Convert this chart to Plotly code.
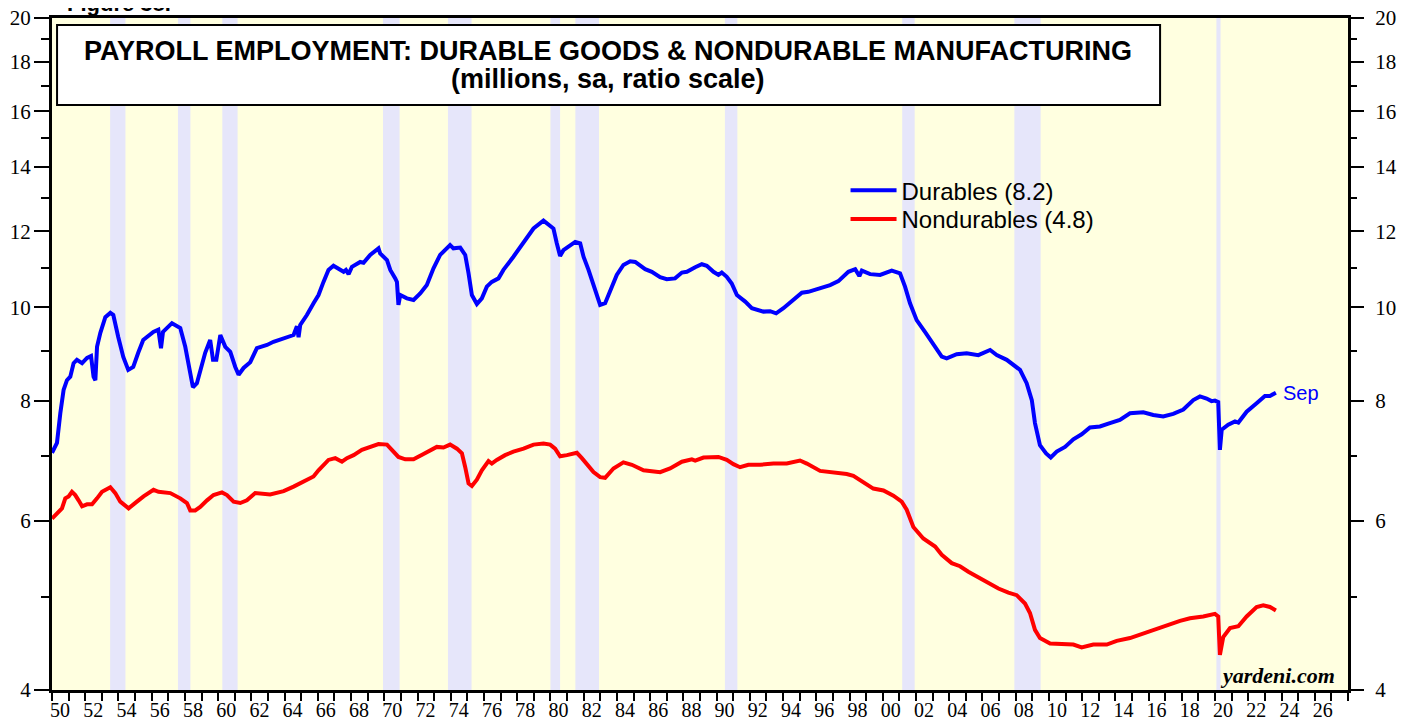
import plotly.graph_objects as go

# Durable goods payroll employment (millions, sa)
dur_years = [
    1950.00, 1950.30, 1950.50, 1950.70, 1950.90, 1951.10, 1951.30, 1951.50, 1951.81, 1952.11,
    1952.35, 1952.50, 1952.61, 1952.71, 1952.91, 1953.21, 1953.51, 1953.69, 1953.99, 1954.29,
    1954.59, 1954.89, 1955.19, 1955.49, 1956.10, 1956.40, 1956.56, 1956.68, 1957.22, 1957.72,
    1958.02, 1958.32, 1958.48, 1958.72, 1958.92, 1959.22, 1959.52, 1959.69, 1959.89, 1960.13,
    1960.43, 1960.73, 1961.03, 1961.23, 1961.53, 1961.93, 1962.33, 1962.94, 1963.33, 1963.94,
    1964.54, 1964.74, 1964.84, 1964.94, 1965.34, 1965.74, 1966.04, 1966.34, 1966.64, 1966.94,
    1967.24, 1967.55, 1967.69, 1967.85, 1968.05, 1968.55, 1968.75, 1969.15, 1969.65, 1969.75,
    1970.16, 1970.36, 1970.66, 1970.76, 1970.85, 1970.96, 1971.36, 1971.76, 1972.16, 1972.56,
    1972.96, 1973.36, 1973.96, 1974.16, 1974.57, 1974.87, 1975.07, 1975.27, 1975.57, 1975.87,
    1976.17, 1976.47, 1976.87, 1977.17, 1977.77, 1978.38, 1978.98, 1979.58, 1979.98, 1980.18,
    1980.38, 1980.58, 1980.78, 1981.19, 1981.49, 1981.79, 1981.99, 1982.29, 1982.69, 1982.99,
    1983.29, 1983.59, 1983.99, 1984.39, 1984.80, 1985.10, 1985.70, 1986.10, 1986.60, 1987.00,
    1987.50, 1987.91, 1988.21, 1988.71, 1989.11, 1989.41, 1989.81, 1990.11, 1990.31, 1990.61,
    1990.91, 1991.22, 1991.72, 1992.12, 1992.82, 1993.22, 1993.58, 1994.02, 1994.52, 1995.13,
    1995.52, 1996.23, 1996.83, 1997.33, 1997.93, 1998.34, 1998.59, 1998.74, 1999.24, 1999.84,
    2000.54, 2001.04, 2001.34, 2001.64, 2002.04, 2002.54, 2003.04, 2003.55, 2003.85, 2004.45,
    2005.05, 2005.75, 2006.46, 2006.86, 2007.46, 2007.86, 2008.26, 2008.66, 2008.97, 2009.16,
    2009.46, 2009.83, 2010.11, 2010.47, 2010.97, 2011.47, 2011.97, 2012.47, 2013.07, 2013.67,
    2014.27, 2014.88, 2015.68, 2016.28, 2016.88, 2017.48, 2017.89, 2018.09, 2018.69, 2019.09,
    2019.49, 2019.79, 2019.99, 2020.19, 2020.29, 2020.40, 2020.79, 2021.20, 2021.40, 2021.90,
    2022.50, 2023.00, 2023.30, 2023.66,
]
durables = [
    7.06, 7.23, 7.76, 8.21, 8.40, 8.47, 8.75, 8.82, 8.75, 8.86,
    8.90, 8.47, 8.40, 9.10, 9.41, 9.77, 9.87, 9.82, 9.31, 8.88,
    8.61, 8.67, 8.97, 9.25, 9.43, 9.48, 9.07, 9.43, 9.63, 9.52,
    9.10, 8.47, 8.26, 8.34, 8.61, 8.97, 9.25, 8.82, 8.82, 9.36,
    9.10, 8.99, 8.67, 8.51, 8.65, 8.77, 9.07, 9.14, 9.21, 9.29,
    9.36, 9.56, 9.31, 9.59, 9.82, 10.10, 10.30, 10.63, 10.94, 11.05,
    10.98, 10.89, 10.94, 10.83, 11.02, 11.15, 11.13, 11.34, 11.52, 11.38,
    11.20, 10.94, 10.72, 10.63, 10.06, 10.30, 10.22, 10.18, 10.34, 10.55,
    10.98, 11.34, 11.61, 11.52, 11.54, 11.34, 10.85, 10.30, 10.08, 10.22,
    10.51, 10.63, 10.72, 10.94, 11.29, 11.66, 12.08, 12.31, 12.15, 12.08,
    11.66, 11.31, 11.47, 11.61, 11.70, 11.66, 11.29, 10.94, 10.38, 10.06,
    10.10, 10.38, 10.81, 11.07, 11.17, 11.15, 10.96, 10.89, 10.75, 10.70,
    10.72, 10.87, 10.89, 11.01, 11.09, 11.05, 10.89, 10.81, 10.87, 10.76,
    10.59, 10.30, 10.14, 9.98, 9.90, 9.91, 9.86, 9.98, 10.14, 10.36,
    10.38, 10.47, 10.55, 10.65, 10.89, 10.96, 10.78, 10.92, 10.83, 10.81,
    10.92, 10.85, 10.51, 10.10, 9.70, 9.43, 9.14, 8.89, 8.85, 8.94,
    8.96, 8.92, 9.03, 8.92, 8.82, 8.71, 8.61, 8.34, 8.01, 7.58,
    7.19, 7.05, 6.98, 7.08, 7.16, 7.29, 7.38, 7.50, 7.52, 7.58,
    7.64, 7.76, 7.78, 7.73, 7.70, 7.75, 7.81, 7.83, 8.01, 8.08,
    8.04, 7.99, 8.00, 7.97, 7.11, 7.46, 7.55, 7.61, 7.59, 7.79,
    7.95, 8.09, 8.09, 8.15,
]

# Nondurable manufacturing payroll employment (millions, sa)
nondur_years = [
    1950.00, 1950.30, 1950.60, 1950.80, 1951.00, 1951.20, 1951.40, 1951.60, 1951.81, 1952.11,
    1952.41, 1952.71, 1953.01, 1953.51, 1953.81, 1954.11, 1954.61, 1955.11, 1955.51, 1956.11,
    1956.41, 1957.12, 1957.72, 1958.12, 1958.32, 1958.62, 1958.92, 1959.33, 1959.72, 1960.23,
    1960.53, 1960.93, 1961.33, 1961.73, 1962.23, 1963.13, 1963.94, 1964.54, 1965.14, 1965.74,
    1966.04, 1966.44, 1966.64, 1967.05, 1967.45, 1967.75, 1968.15, 1968.65, 1969.05, 1969.65,
    1970.16, 1970.46, 1970.85, 1971.26, 1971.76, 1972.36, 1972.66, 1973.16, 1973.56, 1973.96,
    1974.37, 1974.67, 1974.87, 1975.07, 1975.27, 1975.57, 1975.87, 1976.27, 1976.47, 1976.77,
    1977.27, 1977.77, 1978.38, 1978.98, 1979.58, 1979.98, 1980.28, 1980.58, 1980.99, 1981.59,
    1981.89, 1982.19, 1982.59, 1982.99, 1983.29, 1983.79, 1984.39, 1984.90, 1985.60, 1986.60,
    1987.20, 1987.91, 1988.51, 1988.71, 1989.21, 1990.11, 1990.61, 1991.01, 1991.41, 1991.91,
    1992.62, 1993.42, 1994.22, 1995.02, 1995.43, 1996.23, 1997.03, 1997.83, 1998.23, 1998.83,
    1999.43, 2000.04, 2000.64, 2001.14, 2001.44, 2001.84, 2002.44, 2003.15, 2003.55, 2004.15,
    2004.65, 2005.15, 2005.85, 2006.45, 2006.96, 2007.56, 2008.06, 2008.56, 2008.86, 2009.16,
    2009.46, 2010.07, 2010.77, 2011.47, 2011.97, 2012.67, 2013.48, 2014.08, 2014.88, 2015.68,
    2016.49, 2017.29, 2017.89, 2018.49, 2019.29, 2019.99, 2020.19, 2020.29, 2020.49, 2020.90,
    2021.40, 2021.90, 2022.50, 2022.90, 2023.30, 2023.66,
]
nondurables = [
    6.03, 6.11, 6.18, 6.33, 6.36, 6.43, 6.38, 6.30, 6.21, 6.24,
    6.24, 6.33, 6.43, 6.50, 6.41, 6.28, 6.18, 6.28, 6.36, 6.46,
    6.43, 6.41, 6.33, 6.26, 6.15, 6.15, 6.20, 6.30, 6.38, 6.42,
    6.38, 6.28, 6.26, 6.30, 6.41, 6.39, 6.44, 6.51, 6.59, 6.67,
    6.77, 6.88, 6.94, 6.97, 6.91, 6.97, 7.02, 7.11, 7.15, 7.21,
    7.20, 7.11, 6.99, 6.95, 6.95, 7.04, 7.08, 7.16, 7.15, 7.20,
    7.13, 7.05, 6.82, 6.56, 6.52, 6.62, 6.77, 6.92, 6.88, 6.94,
    7.02, 7.08, 7.13, 7.20, 7.22, 7.20, 7.13, 7.00, 7.02, 7.06,
    6.97, 6.86, 6.74, 6.66, 6.65, 6.80, 6.90, 6.86, 6.77, 6.74,
    6.80, 6.91, 6.95, 6.93, 6.98, 6.99, 6.94, 6.87, 6.82, 6.86,
    6.86, 6.88, 6.88, 6.93, 6.88, 6.76, 6.74, 6.71, 6.68, 6.58,
    6.48, 6.45, 6.37, 6.28, 6.16, 5.91, 5.75, 5.64, 5.53, 5.42,
    5.38, 5.31, 5.23, 5.16, 5.10, 5.05, 5.02, 4.92, 4.81, 4.62,
    4.53, 4.47, 4.46, 4.46, 4.43, 4.46, 4.46, 4.50, 4.53, 4.58,
    4.64, 4.69, 4.72, 4.75, 4.77, 4.80, 4.77, 4.35, 4.54, 4.64,
    4.66, 4.77, 4.88, 4.90, 4.88, 4.84,
]

# Recessions (shaded)
rec_start = [1953.50, 1957.58, 1960.25, 1969.92, 1973.83, 1980.00, 1981.50, 1990.50, 2001.17, 2007.92, 2020.08]
rec_end = [1954.42, 1958.33, 1961.17, 1970.92, 1975.25, 1980.58, 1982.92, 1991.25, 2001.92, 2009.50, 2020.33]

x_ticks = list(range(1950, 2027, 2))
x_labels = ["%02d" % (y % 100) for y in x_ticks]
y_ticks = [4, 6, 8, 10, 12, 14, 16, 18, 20]
y_minor = [5, 7, 9, 11, 13, 15, 17, 19]
y_range = [0.60206, 1.30103]  # log10(4), log10(20)

SANS = "Liberation Sans"
SERIF = "Liberation Serif"

fig = go.Figure()
fig.add_trace(go.Scatter(x=dur_years, y=durables, mode="lines", name="Durables (8.2)",
                         line=dict(color="#0000FF", width=4), legend="legend"))
fig.add_trace(go.Scatter(x=nondur_years, y=nondurables, mode="lines", name="Nondurables (4.8)",
                         line=dict(color="#FF0000", width=4), legend="legend2"))
# hidden copy so the right-hand axis gets drawn
fig.add_trace(go.Scatter(x=dur_years, y=durables, yaxis="y2", mode="lines", opacity=0,
                         line=dict(width=0), showlegend=False, hoverinfo="skip"))

for x0, x1 in zip(rec_start, rec_end):
    fig.add_shape(type="rect", xref="x", yref="paper", x0=x0, x1=x1, y0=0, y1=1,
                  fillcolor="#E6E6FA", line=dict(width=0), layer="below")

# title box
fig.add_shape(type="rect", xref="paper", yref="paper", x0=0.0039, x1=0.855, y0=0.8705, y1=0.9896,
              fillcolor="white", line=dict(color="black", width=2), layer="above")
fig.add_annotation(text="<b>PAYROLL EMPLOYMENT: DURABLE GOODS &amp; NONDURABLE MANUFACTURING</b>",
                   xref="paper", yref="paper", x=0.429, y=0.951, xanchor="center", yanchor="middle",
                   showarrow=False, font=dict(family=SANS, size=27, color="black"))
fig.add_annotation(text="<b>(millions, sa, ratio scale)</b>",
                   xref="paper", yref="paper", x=0.429, y=0.909, xanchor="center", yanchor="middle",
                   showarrow=False, font=dict(family=SANS, size=27, color="black"))
fig.add_annotation(text="<b>Figure 38.</b>", xref="paper", yref="paper", x=0.010, y=1.0,
                   xanchor="left", yanchor="bottom", showarrow=False,
                   font=dict(family=SANS, size=22, color="black"))
fig.add_annotation(text="Sep", x=dur_years[-1], y=0.9112, yref="y", xanchor="left",
                   yanchor="middle", xshift=5, showarrow=False,
                   font=dict(family=SANS, size=20, color="#0000FF"))
fig.add_annotation(text="<b><i>yardeni.com</i></b>", xref="paper", yref="paper", x=0.9915, y=0.021,
                   xanchor="right", yanchor="middle", showarrow=False,
                   font=dict(family=SERIF, size=22, color="black"))

tick_font = dict(family=SERIF, size=21, color="black")
yaxis_common = dict(type="log", range=y_range, tickmode="array", tickvals=y_ticks,
                    ticktext=[str(v) for v in y_ticks], ticks="outside", ticklen=15, tickwidth=2,
                    tickcolor="black", tickfont=tick_font, showgrid=False, zeroline=False,
                    automargin=False, ticklabeloverflow="allow",
                    minor=dict(tickmode="array", tickvals=y_minor, ticks="outside", ticklen=8,
                               tickwidth=2, tickcolor="black", showgrid=False))
legend_common = dict(xanchor="left", yanchor="middle", bgcolor="rgba(0,0,0,0)",
                     font=dict(family=SANS, size=24, color="black"), itemwidth=46)

# the page body adds an 8px offset, so the figure is 8px smaller than the window
fig.update_layout(
    width=1399, height=713,
    margin=dict(l=44, r=59, t=10, b=31, autoexpand=False),
    paper_bgcolor="white",
    plot_bgcolor="#FFFFE0",
    showlegend=True,
    legend=dict(x=0.6123, y=0.743, **legend_common),
    legend2=dict(x=0.6123, y=0.7004, **legend_common),
    xaxis=dict(range=[1950, 2028], tickmode="array", tickvals=x_ticks, ticktext=x_labels,
               ticks="outside", ticklen=8, tickwidth=2, tickcolor="black", ticklabelshift=8,
               ticklabelstandoff=-8, ticklabeloverflow="allow",
               tickfont=dict(family=SERIF, size=20, color="black"),
               showgrid=False, zeroline=False, automargin=False,
               showline=True, linecolor="black", linewidth=3, mirror=True,
               minor=dict(tick0=1950, dtick=1, ticks="outside", ticklen=8, tickwidth=2,
                          tickcolor="black", showgrid=False)),
    yaxis=dict(side="left", showline=True, linecolor="black", linewidth=3, mirror=True,
               ticklabelstandoff=-1, **yaxis_common),
    yaxis2=dict(side="right", overlaying="y", anchor="x", showline=False,
                ticklabelstandoff=7, **yaxis_common),
)

fig.write_html("out.html")
